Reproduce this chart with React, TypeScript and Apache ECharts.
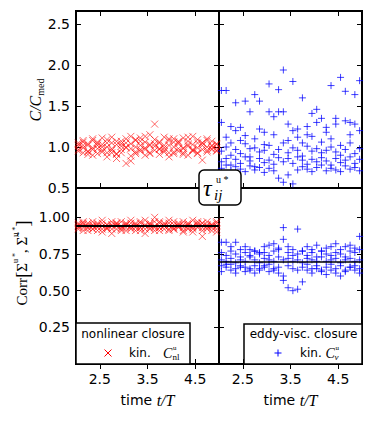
import React, { useEffect, useRef } from "react";
import * as echarts from "echarts";

const T = [2.05, 2.15, 2.25, 2.35, 2.45, 2.55, 2.65, 2.75, 2.85, 2.95, 3.05, 3.15, 3.25, 3.35, 3.45, 3.55, 3.65, 3.75, 3.85, 3.95, 4.05, 4.15, 4.25, 4.35, 4.45, 4.55, 4.65, 4.75, 4.85, 4.95];

// top-left: C/C_med, nonlinear closure (red x)
const nlTopA = [1.05, 1.08, 1.02, 1.10, 1.06, 1.03, 1.09, 1.12, 1.07, 1.04, 1.10, 1.13, 1.08, 1.11, 1.06, 1.15, 1.09, 1.05, 1.12, 1.08, 1.10, 1.06, 1.11, 1.07, 1.13, 1.09, 1.05, 1.10, 1.07, 1.04];
const nlTopB = [0.97, 0.93, 0.95, 0.90, 0.92, 0.96, 0.88, 0.93, 0.91, 0.97, 0.80, 0.89, 0.92, 0.95, 0.90, 0.93, 0.96, 0.91, 0.94, 0.88, 0.92, 0.95, 0.93, 0.90, 0.96, 0.92, 0.84, 0.94, 0.97, 0.95];
const nlTopC = [1.01, 0.99, 1.04, 0.97, 1.02, 1.00, 1.05, 0.98, 1.03, 1.01, 0.99, 1.04, 1.00, 1.02, 0.97, 1.03, 1.01, 1.06, 0.99, 1.02, 1.00, 1.04, 0.98, 1.01, 1.03, 0.99, 1.02, 1.00, 0.98, 1.03];
const nlTopD = [1.03, 1.06, 0.94, 1.08, 0.98, 1.11, 0.93, 1.05, 0.86, 1.07, 1.00, 0.83, 1.09, 0.97, 1.13, 1.02, 1.28, 0.98, 0.96, 1.10, 0.94, 1.07, 0.99, 1.12, 0.95, 1.05, 0.97, 1.08, 1.01, 0.96];
const nlTopE = [0.95, 1.02, 0.91, 0.99, 1.04, 0.94, 1.00, 0.96, 0.92, 0.93, 1.05, 0.98, 0.94, 1.07, 0.99, 0.92, 1.04, 0.97, 1.02, 0.93, 1.06, 0.98, 0.91, 1.03, 0.97, 0.93, 1.05, 0.96, 1.02, 0.99];

// top-right: C/C_med, eddy-viscosity closure (blue +)
const evTopA = [1.69, 1.69, 1.25, 1.54, 1.24, 1.56, 1.43, 1.64, 1.56, 1.18, 1.77, 1.37, 1.70, 1.94, 1.28, 1.80, 1.22, 1.60, 1.15, 1.41, 1.46, 1.35, 1.24, 1.75, 1.35, 1.85, 1.68, 1.30, 1.64, 1.81];
const evTopB = [1.30, 1.12, 1.05, 1.20, 1.08, 1.14, 0.98, 1.10, 1.22, 1.03, 1.43, 1.15, 1.43, 1.43, 1.08, 1.20, 1.12, 1.05, 1.25, 1.13, 1.30, 1.06, 1.18, 1.10, 1.28, 1.02, 1.32, 1.15, 1.28, 1.20];
const evTopC = [0.95, 1.00, 0.90, 0.97, 0.92, 1.04, 0.88, 0.99, 0.94, 0.96, 1.02, 0.91, 0.97, 1.05, 0.93, 0.99, 0.96, 0.89, 1.01, 0.95, 0.98, 0.93, 0.96, 1.00, 0.94, 0.90, 0.97, 1.05, 0.92, 0.98];
const evTopD = [0.82, 0.86, 0.78, 0.85, 0.80, 0.88, 0.83, 0.76, 0.86, 0.81, 0.84, 0.79, 0.87, 0.82, 0.86, 0.80, 0.88, 0.84, 0.79, 0.85, 0.82, 0.87, 0.83, 0.78, 0.86, 0.81, 0.84, 0.88, 0.80, 0.85];
const evTopE = [0.74, 0.78, 0.71, 0.76, 0.73, 0.70, 0.77, 0.72, 0.75, 0.69, 0.74, 0.71, 0.62, 0.57, 0.66, 0.55, 0.72, 0.76, 0.73, 0.70, 0.75, 0.78, 0.71, 0.74, 0.72, 0.70, 0.77, 0.73, 0.75, 0.71];

// bottom-left: correlation, nonlinear closure
const nlBotA = [0.96, 0.97, 0.95, 0.97, 0.96, 0.98, 0.95, 0.97, 0.96, 0.97, 0.95, 0.98, 0.96, 0.97, 0.98, 0.96, 1.00, 0.97, 0.96, 0.98, 0.97, 0.95, 0.97, 0.96, 0.98, 0.97, 0.96, 0.97, 0.95, 0.97];
const nlBotB = [0.94, 0.95, 0.93, 0.94, 0.95, 0.94, 0.93, 0.95, 0.94, 0.93, 0.95, 0.94, 0.95, 0.93, 0.94, 0.95, 0.94, 0.93, 0.95, 0.94, 0.93, 0.94, 0.95, 0.93, 0.94, 0.95, 0.93, 0.94, 0.95, 0.94];
const nlBotC = [0.92, 0.91, 0.93, 0.92, 0.91, 0.92, 0.93, 0.89, 0.92, 0.91, 0.93, 0.92, 0.91, 0.93, 0.89, 0.92, 0.91, 0.93, 0.92, 0.91, 0.92, 0.93, 0.91, 0.92, 0.90, 0.93, 0.87, 0.92, 0.91, 0.92];
const nlBotD = [0.95, 0.93, 0.96, 0.92, 0.94, 0.96, 0.92, 0.94, 0.95, 0.92, 0.96, 0.93, 0.94, 0.96, 0.92, 0.95, 0.93, 0.96, 0.94, 0.92, 0.95, 0.96, 0.93, 0.95, 0.92, 0.94, 0.96, 0.93, 0.94, 0.96];
const nlBotE = [0.93, 0.96, 0.91, 0.95, 0.93, 0.90, 0.95, 0.92, 0.96, 0.94, 0.91, 0.96, 0.93, 0.91, 0.95, 0.93, 0.97, 0.91, 0.94, 0.96, 0.92, 0.94, 0.90, 0.95, 0.93, 0.96, 0.91, 0.95, 0.93, 0.90];

// bottom-right: correlation, eddy-viscosity closure
const evBotA = [0.83, 0.83, 0.80, 0.83, 0.78, 0.80, 0.78, 0.77, 0.76, 0.80, 0.81, 0.82, 0.79, 0.93, 0.80, 0.78, 0.92, 0.77, 0.80, 0.78, 0.81, 0.77, 0.79, 0.80, 0.82, 0.78, 0.80, 0.81, 0.79, 0.87];
const evBotB = [0.76, 0.74, 0.77, 0.75, 0.73, 0.76, 0.74, 0.77, 0.75, 0.76, 0.74, 0.77, 0.78, 0.85, 0.76, 0.74, 0.75, 0.77, 0.74, 0.76, 0.73, 0.77, 0.75, 0.74, 0.76, 0.75, 0.73, 0.77, 0.76, 0.78];
const evBotC = [0.71, 0.70, 0.72, 0.69, 0.71, 0.70, 0.73, 0.71, 0.69, 0.72, 0.71, 0.70, 0.73, 0.71, 0.72, 0.70, 0.71, 0.69, 0.72, 0.71, 0.70, 0.73, 0.70, 0.71, 0.72, 0.69, 0.71, 0.72, 0.70, 0.71];
const evBotD = [0.67, 0.66, 0.68, 0.65, 0.67, 0.66, 0.64, 0.67, 0.65, 0.66, 0.68, 0.64, 0.66, 0.60, 0.67, 0.65, 0.64, 0.66, 0.68, 0.65, 0.67, 0.64, 0.66, 0.68, 0.65, 0.67, 0.64, 0.66, 0.67, 0.65];
const evBotE = [0.63, 0.68, 0.64, 0.62, 0.66, 0.63, 0.65, 0.62, 0.64, 0.67, 0.63, 0.65, 0.62, 0.57, 0.52, 0.50, 0.51, 0.56, 0.64, 0.62, 0.65, 0.63, 0.61, 0.64, 0.62, 0.60, 0.63, 0.66, 0.64, 0.62];

const nlCorrMean = 0.94;
const evCorrMean = 0.705;

const xTicks = [2.5, 3.5, 4.5];
const topYTicks = [0.5, 1.0, 1.5, 2.0, 2.5];
const botYTicks = [0.25, 0.5, 0.75, 1.0];

const SANS = "DejaVu Sans";
const SERIF = "Liberation Serif";

function pts(rows: number[][]) {
  const out: number[][] = [];
  rows.forEach((r) => r.forEach((v, i) => out.push([T[i], v])));
  return out;
}

const CROSS = "path://M0,0L10,10M10,0L0,10";
const PLUS = "path://M5,0L5,10M0,5L10,5";

export default function App() {
  const ref = useRef<HTMLDivElement>(null);
  useEffect(() => {
    if (!ref.current) return;
    const chart = echarts.init(ref.current, null, { renderer: "svg" });

    const grids = [
      { left: 76, top: 11, width: 143, height: 177 },
      { left: 219, top: 11, width: 143, height: 177 },
      { left: 76, top: 188, width: 143, height: 176 },
      { left: 219, top: 188, width: 143, height: 176 },
    ].map((g) => ({
      ...g,
      show: true,
      backgroundColor: "#fff",
      borderColor: "#000",
      borderWidth: 2,
      containLabel: false,
      outerBoundsMode: "none",
    }));

    const tickStyle = { color: "#000", width: 1 };
    const xAxis: any[] = [];
    const yAxis: any[] = [];
    for (let g = 0; g < 4; g++) {
      for (const pos of ["bottom", "top"]) {
        xAxis.push({
          type: "value",
          gridIndex: g,
          position: pos,
          min: 2,
          max: 5,
          axisLine: { show: false },
          splitLine: { show: false },
          axisTick: { show: true, inside: true, length: 5, customValues: xTicks, lineStyle: tickStyle },
          axisLabel: {
            show: pos === "bottom" && g >= 2,
            customValues: xTicks,
            formatter: (v: number) => v.toFixed(1),
            fontSize: 14,
            fontFamily: SANS,
            color: "#000",
            margin: 8,
          },
        });
      }
      const top = g < 2;
      for (const pos of ["left", "right"]) {
        yAxis.push({
          type: "value",
          gridIndex: g,
          position: pos,
          min: top ? 0.5 : 0,
          max: top ? 2.66 : 1.2,
          axisLine: { show: false },
          splitLine: { show: false },
          axisTick: { show: true, inside: true, length: 5, customValues: top ? topYTicks : botYTicks, lineStyle: tickStyle },
          axisLabel: {
            show: pos === "left" && (g === 0 || g === 2),
            customValues: top ? topYTicks : botYTicks,
            formatter: (v: number) => v.toFixed(top ? 1 : 2),
            fontSize: 14,
            fontFamily: SANS,
            color: "#000",
            margin: 6,
          },
        });
      }
    }

    const red = { color: "transparent", borderColor: "#ff0000", borderWidth: 1, opacity: 0.6 };
    const blue = { color: "transparent", borderColor: "#0000ff", borderWidth: 1, opacity: 0.75 };

    const meanLine = (y: number, w: number) => ({
      silent: true,
      symbol: "none",
      label: { show: false },
      lineStyle: { color: "#000", width: w, type: "solid" },
      data: [{ yAxis: y }],
    });

    const series: any[] = [
      {
        type: "scatter", xAxisIndex: 0, yAxisIndex: 0, symbol: CROSS, symbolSize: 7, itemStyle: red,
        data: pts([nlTopA, nlTopB, nlTopC, nlTopD, nlTopE]),
      },
      {
        type: "scatter", xAxisIndex: 2, yAxisIndex: 2, symbol: PLUS, symbolSize: 7, itemStyle: blue,
        data: pts([evTopA, evTopB, evTopC, evTopD, evTopE]),
      },
      {
        type: "scatter", xAxisIndex: 4, yAxisIndex: 4, symbol: CROSS, symbolSize: 7, itemStyle: red,
        data: pts([nlBotA, nlBotB, nlBotC, nlBotD, nlBotE]),
        markLine: meanLine(nlCorrMean, 2.2),
      },
      {
        type: "scatter", xAxisIndex: 6, yAxisIndex: 6, symbol: PLUS, symbolSize: 7, itemStyle: blue,
        data: pts([evBotA, evBotB, evBotC, evBotD, evBotE]),
        markLine: meanLine(evCorrMean, 1.6),
      },
    ];

    const txt = (x: number, y: number, text: string, style: any, extra: any = {}) => ({
      type: "text",
      x,
      y,
      z: 110,
      ...extra,
      style: { text, fill: "#000", align: "left", verticalAlign: "middle", ...style },
    });

    const graphic: any[] = [
      // y-axis titles
      txt(35, 100, "{i|C/C}{s|med}", {
        align: "center",
        rich: {
          i: { fontFamily: SERIF, fontStyle: "italic", fontSize: 16, lineHeight: 20 },
          s: { fontFamily: SERIF, fontSize: 10, verticalAlign: "bottom", lineHeight: 20 },
        },
      }, { rotation: Math.PI / 2 }),
      txt(22, 263, "{r|Corr}{b|[}{r|Σ}{p|u *}{r|, }{r|Σ̃}{p|u *}{b|]}", {
        align: "center",
        rich: {
          r: { fontFamily: SERIF, fontSize: 15, lineHeight: 22 },
          b: { fontFamily: SERIF, fontSize: 19, lineHeight: 22 },
          p: { fontFamily: SERIF, fontSize: 8, verticalAlign: "top", lineHeight: 22 },
        },
      }, { rotation: Math.PI / 2 }),
      // x-axis titles
      txt(147.5, 400, "{s|time }{i|t/T}", {
        align: "center",
        rich: {
          s: { fontFamily: SANS, fontSize: 14 },
          i: { fontFamily: SERIF, fontStyle: "italic", fontSize: 16 },
        },
      }),
      txt(290.5, 400, "{s|time }{i|t/T}", {
        align: "center",
        rich: {
          s: { fontFamily: SANS, fontSize: 14 },
          i: { fontFamily: SERIF, fontStyle: "italic", fontSize: 16 },
        },
      }),
      // centre label
      {
        type: "rect", z: 100,
        shape: { x: 199, y: 170, width: 42, height: 35, r: 5 },
        style: { fill: "#fff", stroke: "#000", lineWidth: 1.5 },
      },
      txt(203, 188, "τ", { fontFamily: SERIF, fontStyle: "italic", fontSize: 24 }),
      txt(216, 179, "u *", { fontFamily: SERIF, fontSize: 10 }),
      txt(214, 195, "ij", { fontFamily: SERIF, fontStyle: "italic", fontSize: 15 }),
      // left legend
      {
        type: "rect", z: 100,
        shape: { x: 76, y: 323, width: 114, height: 41 },
        style: { fill: "#fff", stroke: "#000", lineWidth: 1.5 },
      },
      txt(133, 334, "nonlinear closure", { fontFamily: SANS, fontSize: 12, align: "center" }),
      { type: "line", z: 110, shape: { x1: 104.5, y1: 349.5, x2: 111.5, y2: 356.5 }, style: { stroke: "#ff0000", lineWidth: 1 } },
      { type: "line", z: 110, shape: { x1: 104.5, y1: 356.5, x2: 111.5, y2: 349.5 }, style: { stroke: "#ff0000", lineWidth: 1 } },
      txt(129, 353, "kin.", { fontFamily: SANS, fontSize: 12 }),
      txt(163, 353, "C", { fontFamily: SERIF, fontStyle: "italic", fontSize: 14 }),
      txt(173, 348, "u", { fontFamily: SERIF, fontSize: 7 }),
      txt(172.5, 357, "nl", { fontFamily: SERIF, fontSize: 9 }),
      // right legend
      {
        type: "rect", z: 100,
        shape: { x: 244, y: 324, width: 118, height: 40 },
        style: { fill: "#fff", stroke: "#000", lineWidth: 1.5 },
      },
      txt(303.5, 334, "eddy-visc. closure", { fontFamily: SANS, fontSize: 12, align: "center" }),
      { type: "line", z: 110, shape: { x1: 274.5, y1: 353, x2: 281.5, y2: 353 }, style: { stroke: "#0000ff", lineWidth: 1 } },
      { type: "line", z: 110, shape: { x1: 278, y1: 349.5, x2: 278, y2: 356.5 }, style: { stroke: "#0000ff", lineWidth: 1 } },
      txt(300, 353, "kin.", { fontFamily: SANS, fontSize: 12 }),
      txt(325.5, 353, "C", { fontFamily: SERIF, fontStyle: "italic", fontSize: 14 }),
      txt(335.5, 348, "u", { fontFamily: SERIF, fontSize: 7 }),
      txt(334.5, 357, "ν", { fontFamily: SERIF, fontStyle: "italic", fontSize: 9 }),
    ];

    chart.setOption({
      animation: false,
      backgroundColor: "#fff",
      grid: grids,
      xAxis,
      yAxis,
      series,
      graphic,
    });
    return () => chart.dispose();
  }, []);

  return (
    <div
      ref={ref}
      style={{ position: "fixed", left: 0, top: 0, width: 374, height: 421, background: "#fff" }}
    />
  );
}
